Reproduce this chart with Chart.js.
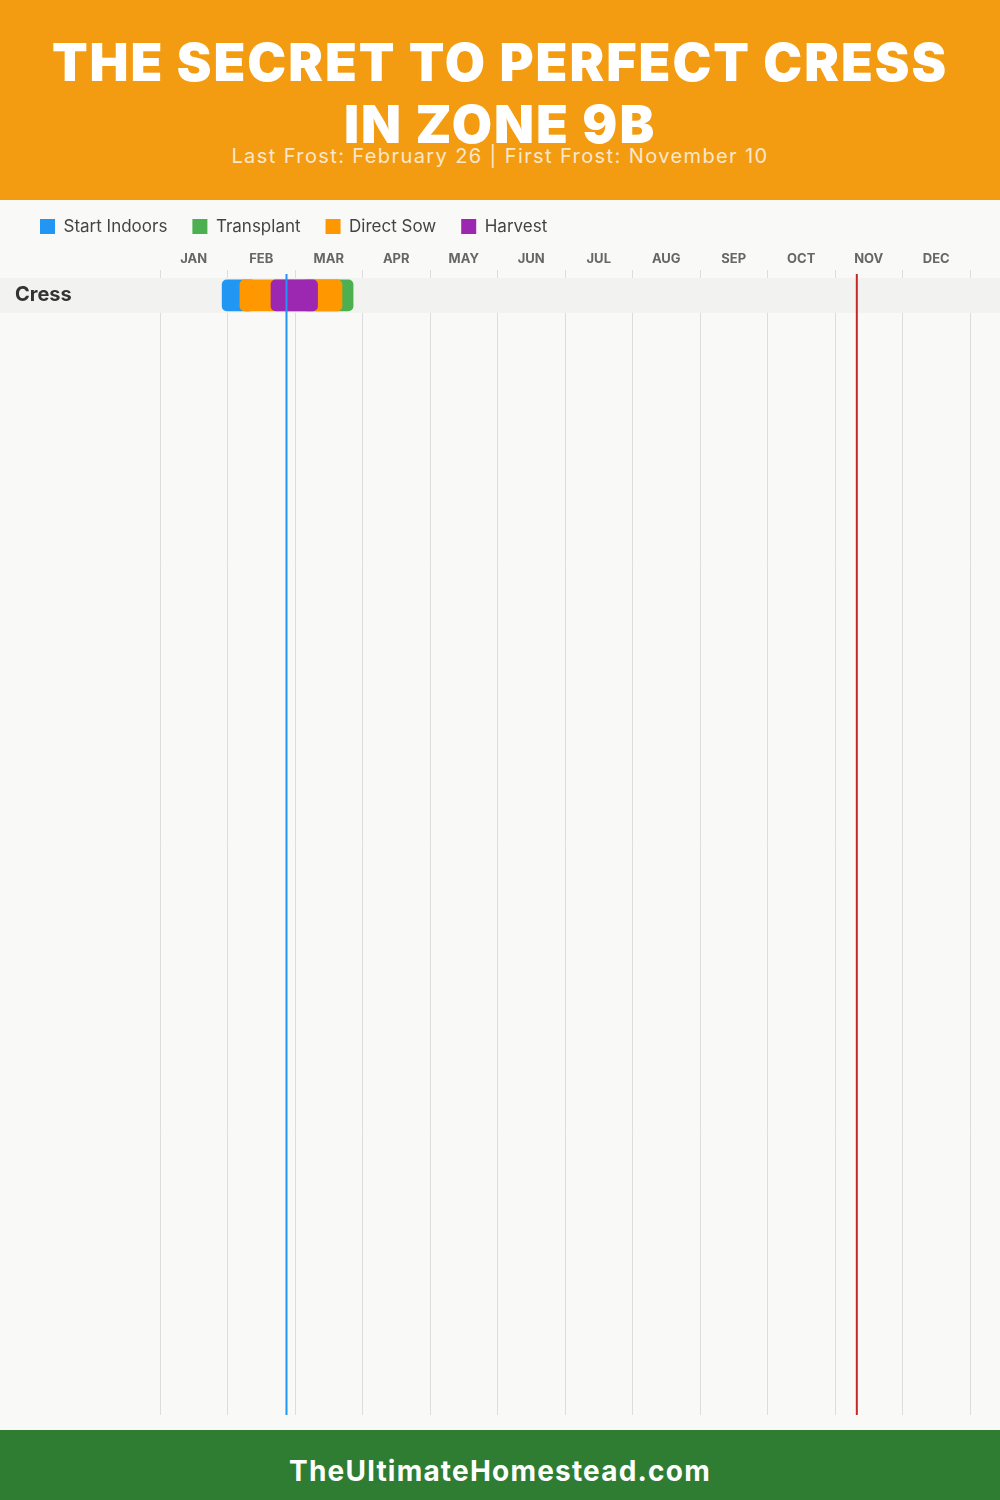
<!DOCTYPE html>
<html>
<head>
<meta charset="utf-8">
<script src="https://cdn.jsdelivr.net/npm/chart.js@4/dist/chart.umd.min.js"></script>
<style>
  body { margin: 0; width: 1000px; height: 1500px; background: #f9f9f7; font-family: Inter, "Open Sans", sans-serif; overflow: hidden; }
  #header { height: 200px; background: #f39c12; color: #fff; text-align: center; position: relative; }
  #header h1 { margin: 0; padding-top: 32px; font-size: 52px; line-height: 62px; font-weight: 900; letter-spacing: 2px; }
  #header .sub { position: absolute; top: 144px; left: 0; right: 0; font-size: 20px; color: #fbe7cc; letter-spacing: 1.4px; }
  #chartBox { position: relative; height: 1230px; width: 1000px; }
  #footer { position: absolute; top: 1430px; left: 0; width: 1000px; height: 70px; background: #2e7d32; color: #fff; text-align: center; font-size: 28px; font-weight: 700; line-height: 82px; letter-spacing: 1.2px; }
</style>
</head>
<body>
<div id="header">
  <h1>THE SECRET TO PERFECT CRESS<br>IN ZONE 9B</h1>
  <div class="sub">Last Frost: February 26 | First Frost: November 10</div>
</div>
<div id="chartBox"><canvas id="calChart"></canvas></div>
<div id="footer">TheUltimateHomestead.com</div>
<script>
const months = ['JAN', 'FEB', 'MAR', 'APR', 'MAY', 'JUN', 'JUL', 'AUG', 'SEP', 'OCT', 'NOV', 'DEC'];
const crops = ['Cress'];
// one [from, to] range per crop, as MM-DD
const startIndoors = [['01-28', '02-12']];
const transplant = [['03-05', '03-28']];
const directSow = [['02-05', '03-23']];
const harvest = [['02-19', '03-12']];
const lastFrost = '02-26';
const firstFrost = '11-10';

function dayOfYear(s) {
    const [m, d] = s.split('-').map(Number);
    return (Date.UTC(2023, m - 1, d) - Date.UTC(2023, 0, 0)) / 86400000;
}

function toBars(ranges) {
    return ranges.map((r, i) => ({ x: [dayOfYear(r[0]), dayOfYear(r[1])], y: i }));
}

const rowBand = {
    id: 'rowBand',
    beforeDatasetsDraw(chart) {
        const ctx = chart.ctx;
        const y = chart.scales.y;
        ctx.save();
        ctx.fillStyle = '#f2f2f0';
        crops.forEach((c, i) => {
            const top = y.getPixelForValue(i - 0.5);
            const bottom = y.getPixelForValue(i + 0.5);
            ctx.fillRect(0, top, chart.width, bottom - top);
        });
        ctx.restore();
    }
};

const frostLines = {
    id: 'frostLines',
    afterDatasetsDraw(chart) {
        const ctx = chart.ctx;
        const x = chart.scales.x;
        const area = chart.chartArea;
        ctx.save();
        ctx.lineWidth = 2;
        [[lastFrost, '#2196f3'], [firstFrost, '#c62828']].forEach(([d, col]) => {
            const px = x.getPixelForValue(dayOfYear(d));
            ctx.strokeStyle = col;
            ctx.beginPath();
            ctx.moveTo(px, area.top - 4);
            ctx.lineTo(px, area.bottom);
            ctx.stroke();
        });
        ctx.restore();
    }
};

const ctx = document.getElementById('calChart').getContext('2d');
const calChart = new Chart(ctx, {
    type: 'bar',
    data: {
        datasets: [
            // higher order is drawn first (underneath)
            { label: 'Start Indoors', data: toBars(startIndoors), backgroundColor: '#2196f3', order: 4 },
            { label: 'Transplant', data: toBars(transplant), backgroundColor: '#4caf50', order: 3 },
            { label: 'Direct Sow', data: toBars(directSow), backgroundColor: '#ff9800', order: 2 },
            { label: 'Harvest', data: toBars(harvest), backgroundColor: '#9c27b0', order: 1 }
        ]
    },
    options: {
        indexAxis: 'y',
        responsive: true,
        maintainAspectRatio: false,
        animation: false,
        layout: { padding: { left: 15, right: 30, top: -7, bottom: 10 } },
        datasets: {
            bar: { barThickness: 31, borderRadius: 5, borderSkipped: false, grouped: false }
        },
        plugins: {
            tooltip: { enabled: false },
            legend: {
                position: 'top',
                align: 'start',
                labels: {
                    boxWidth: 15,
                    boxHeight: 15,
                    padding: 25,
                    color: '#444',
                    font: { family: 'Inter', size: 17 },
                    sort: (a, b) => a.datasetIndex - b.datasetIndex
                }
            }
        },
        scales: {
            x: {
                type: 'linear',
                position: 'top',
                min: 0,
                max: 365,
                afterBuildTicks: scale => {
                    scale.ticks = months.map((m, i) => ({ value: i * 365 / 12 })).concat([{ value: 365 }]);
                },
                afterFit: scale => { scale.height = 85 - scale.chart.legend.height; },
                grid: { color: '#dddddd', tickLength: 8 },
                border: { display: false },
                ticks: {
                    color: '#666',
                    font: { family: 'Inter', size: 13, weight: 'bold' },
                    padding: 3,
                    maxRotation: 0,
                    autoSkip: false,
                    labelOffset: 33.75,
                    callback: (v, i) => months[i] || ''
                }
            },
            y: {
                type: 'linear',
                reverse: true,
                offset: false,
                min: -0.5,
                max: 32.1,
                afterBuildTicks: scale => {
                    scale.ticks = crops.map((c, i) => ({ value: i }));
                },
                afterFit: scale => { scale.width = 145; },
                grid: { display: false },
                border: { display: false },
                ticks: {
                    z: 1,
                    crossAlign: 'far',
                    color: '#333',
                    font: { family: 'Inter', size: 20, weight: 'bold' },
                    callback: (v) => crops[v] || ''
                }
            }
        }
    },
    plugins: [rowBand, frostLines]
});
</script>
</body>
</html>
